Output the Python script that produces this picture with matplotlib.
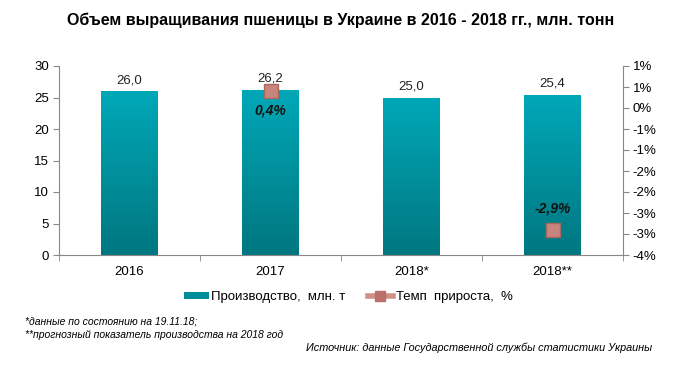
import matplotlib
matplotlib.use("Agg")
import matplotlib.pyplot as plt
import numpy as np
from matplotlib.colors import LinearSegmentedColormap
from matplotlib.lines import Line2D
from matplotlib.patches import Patch

categories = ["2016", "2017", "2018*", "2018**"]
production = [26.0, 26.2, 25.0, 25.4]
growth = [np.nan, 0.4, np.nan, -2.9]
prod_labels = ["26,0", "26,2", "25,0", "25,4"]
growth_labels = [None, "0,4%", None, "-2,9%"]
left_ticks = [0, 5, 10, 15, 20, 25, 30]
right_ticks = [1.0, 0.5, 0.0, -0.5, -1.0, -1.5, -2.0, -2.5, -3.0, -3.5]
right_tick_labels = ["1%", "1%", "0%", "-1%", "-1%", "-2%", "-2%", "-3%", "-3%", "-4%"]

plt.rcParams['font.family'] = ['Liberation Sans', 'DejaVu Sans']

W, H = 681, 365
fig = plt.figure(figsize=(W / 100, H / 100), dpi=100)
ax = fig.add_axes([59 / W, 1 - 255 / H, (623 - 59) / W, (255 - 66) / H])
ax2 = ax.twinx()

x = np.arange(len(categories))
bars = ax.bar(x, production, width=0.4, color="none", edgecolor="none", zorder=2)
cmap = LinearSegmentedColormap.from_list("tg", ["#007780", "#00A8B8"])
grad = np.linspace(0, 1, 256).reshape(-1, 1)
for b in bars:
    bx, by = b.get_x(), b.get_y()
    bw, bh = b.get_width(), b.get_height()
    im = ax.imshow(grad, cmap=cmap, origin="lower", aspect="auto",
                   extent=[bx, bx + bw, by, by + bh], zorder=2)
    im.set_clip_path(b)
for xi, v, lab in zip(x, production, prod_labels):
    ax.text(xi, v + 0.8, lab, ha="center", va="bottom", fontsize=9.5, color="#222222")

ax.set_xlim(-0.5, len(categories) - 0.5)
ax.set_ylim(0, 30)
ax.set_yticks(left_ticks)
ax.set_xticks(x)
ax.set_xticklabels(categories)
ax.set_xticks(np.arange(-0.5, len(categories), 1.0), minor=True)
ax.tick_params(axis="x", which="major", length=0, pad=8, labelsize=9.5)
ax.tick_params(axis="x", which="minor", length=4, color="#888888", direction="out")
ax.tick_params(axis="y", length=4, color="#888888", labelsize=9.5, pad=3)

ax2.plot(x, growth, color="#C07870", linewidth=3, marker="s", markersize=10,
         markerfacecolor="#C8857D", markeredgecolor="#A86860", zorder=3)
ax2.set_ylim(-3.5, 1.0)
ax2.set_yticks(right_ticks)
ax2.set_yticklabels(right_tick_labels)
ax2.tick_params(axis="y", length=4, color="#888888", labelsize=9.5, pad=3)
for xi, g, lab in zip(x, growth, growth_labels):
    if lab is None:
        continue
    if g > 0:
        ax2.text(xi, g - 0.3, lab, ha="center", va="top", fontsize=10,
                 fontweight="bold", fontstyle="italic", color="#111111")
    else:
        ax2.text(xi, g + 0.35, lab, ha="center", va="bottom", fontsize=10,
                 fontweight="bold", fontstyle="italic", color="#111111")

for a in (ax, ax2):
    a.spines["top"].set_visible(False)
    for s in ["left", "right", "bottom"]:
        a.spines[s].set_color("#888888")
ax2.spines["left"].set_visible(False)
ax.spines["right"].set_visible(False)
ax2.spines["bottom"].set_visible(False)
ax.set_zorder(ax2.get_zorder() - 1)
ax2.patch.set_visible(False)

handles = [Patch(facecolor="#008C98", edgecolor="none"),
           Line2D([0], [0], color="#D09088", linewidth=4, marker="s", markersize=7,
                  markerfacecolor="#B87068", markeredgecolor="#B87068")]
fig.legend(handles, ["Производство,  млн. т", "Темп  прироста,  %"],
           loc="center", bbox_to_anchor=(348 / W, 1 - 297 / H), ncol=2, frameon=False,
           fontsize=9.5, handlelength=1.9, handleheight=0.5, handletextpad=0.2,
           columnspacing=1.7)

fig.text(0.5, 1 - 20 / H, "Объем выращивания пшеницы в Украине в 2016 - 2018 гг., млн. тонн",
         ha="center", va="center", fontsize=11.5, fontweight="bold")
fig.text(25 / W, 1 - 322 / H, "*данные по состоянию на 19.11.18;", ha="left", va="center",
         fontsize=7.5, fontstyle="italic")
fig.text(25 / W, 1 - 335 / H, "**прогнозный показатель производства на 2018 год", ha="left",
         va="center", fontsize=7.5, fontstyle="italic")
fig.text(652 / W, 1 - 348 / H, "Источник: данные Государственной службы статистики Украины",
         ha="right", va="center", fontsize=7.8, fontstyle="italic")

fig.savefig("out.png", dpi=100)
